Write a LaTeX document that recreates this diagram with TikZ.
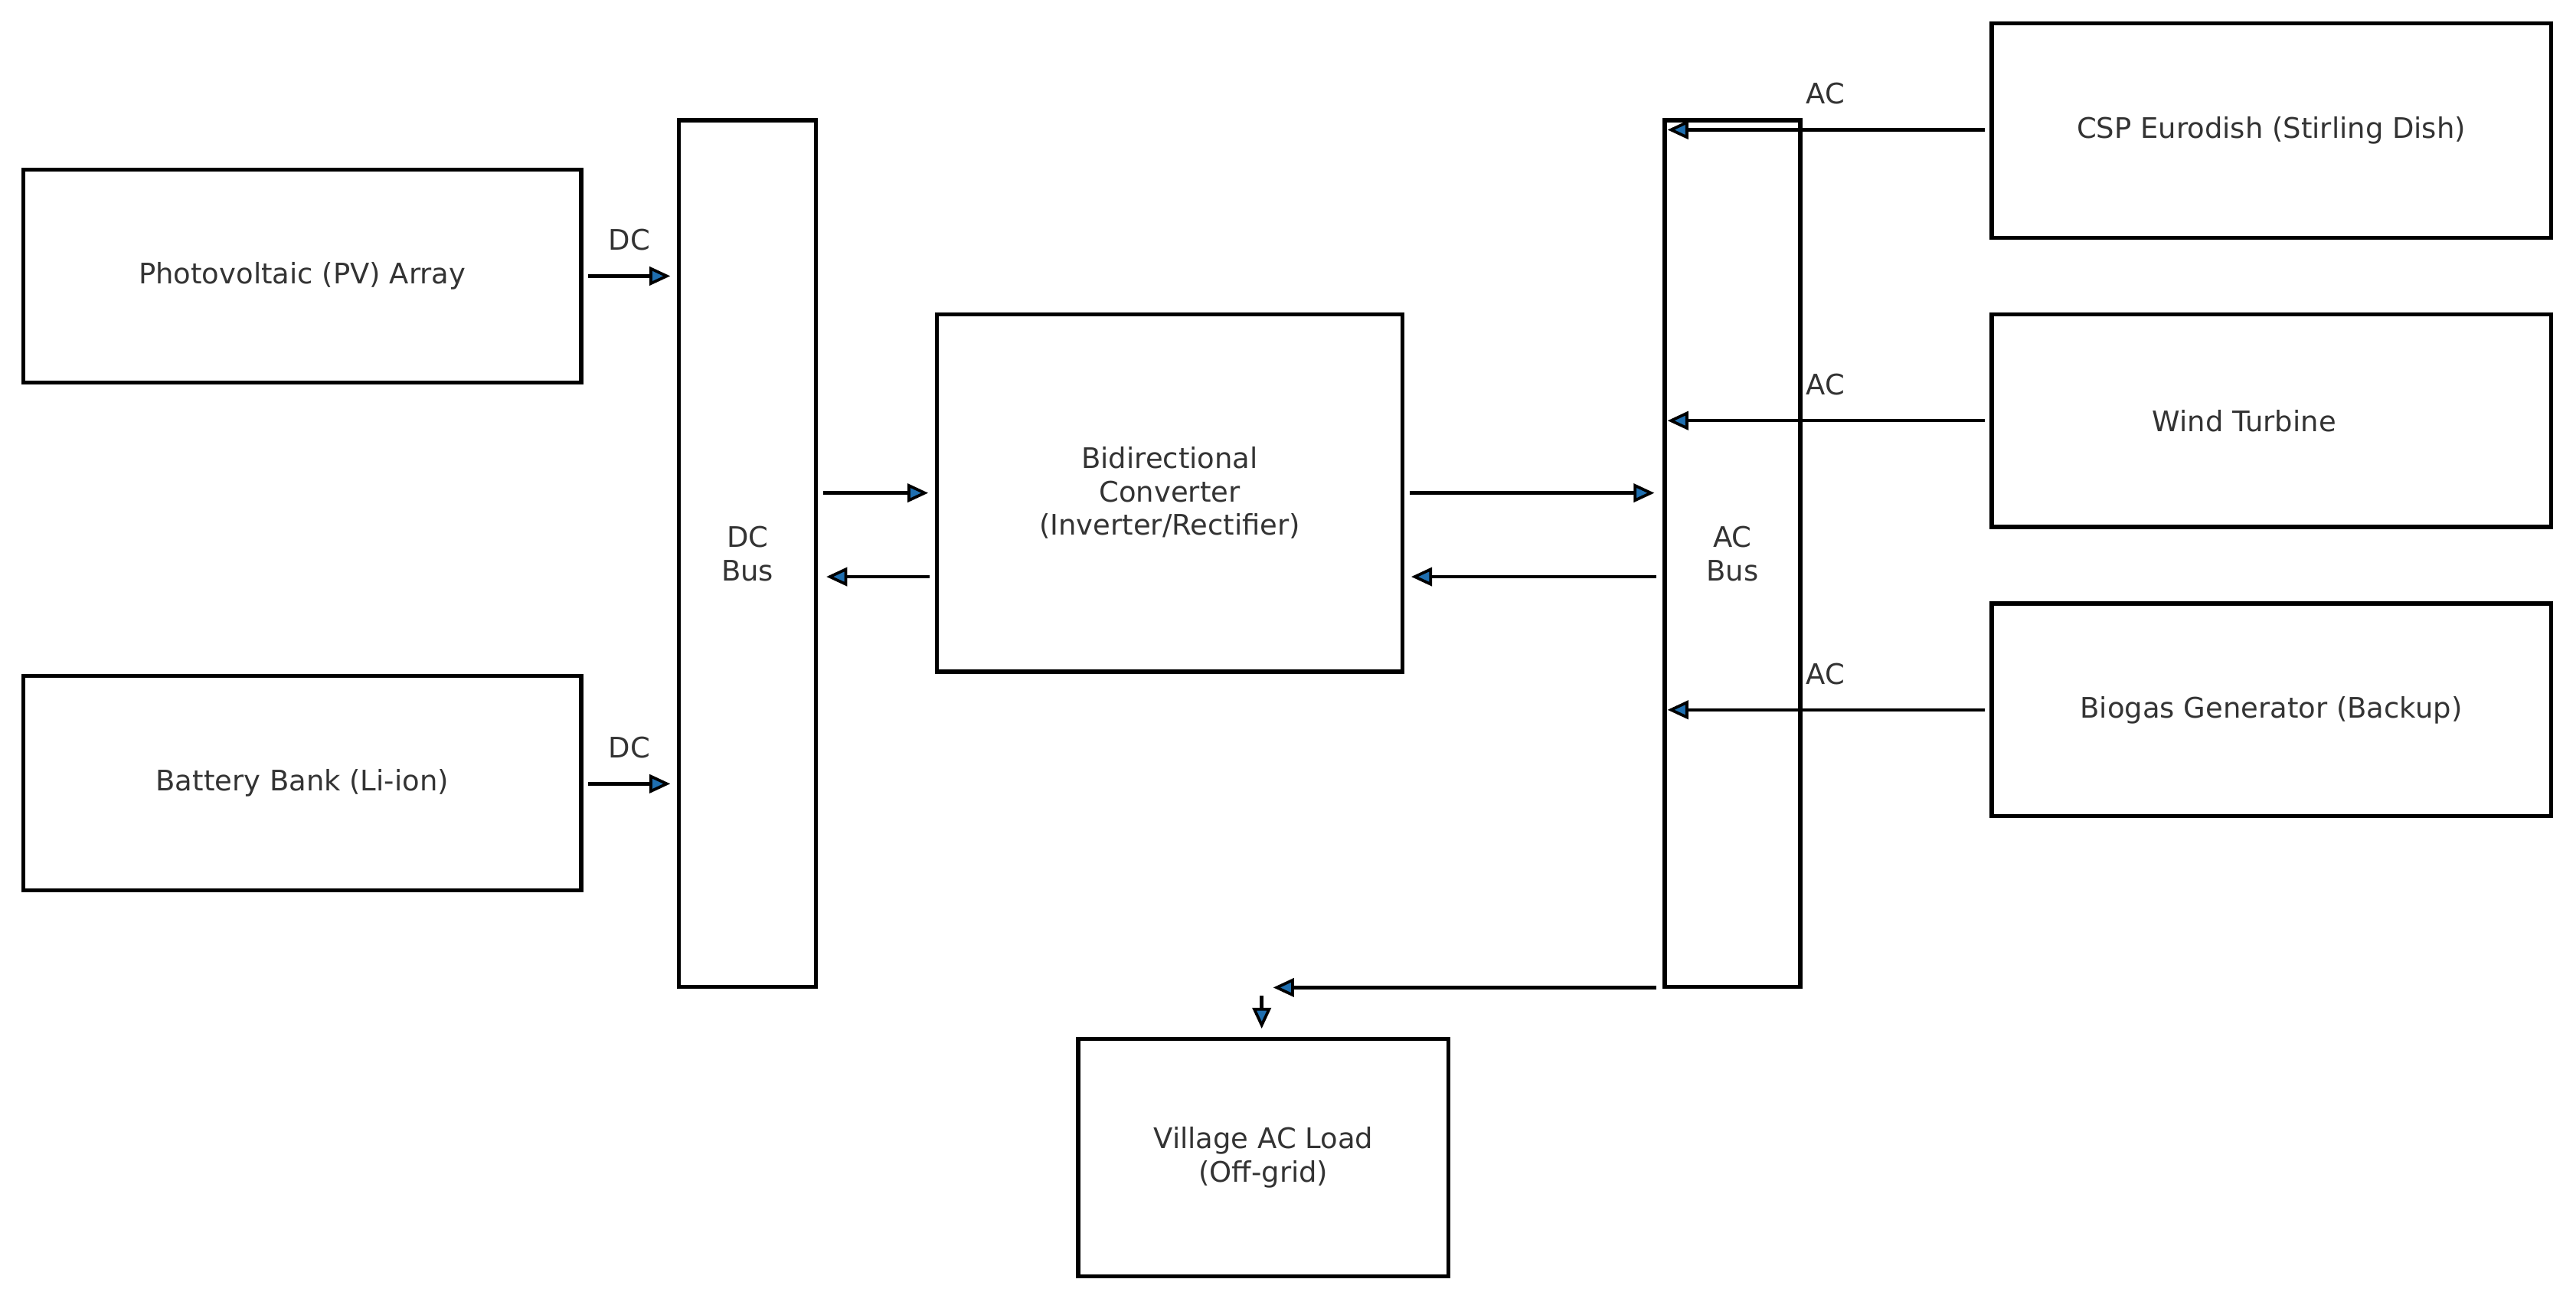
\documentclass[tikz,border=0pt]{standalone}
\usepackage{fontspec}
\setmainfont{DejaVu Sans}
\usetikzlibrary{arrows.meta}
\definecolor{tipc}{HTML}{1F6FB0}
\definecolor{txt}{HTML}{333333}
\begin{document}
\begin{tikzpicture}[x=0.05cm,y=-0.05cm,
  box/.style={draw=black,line width=3.6pt,text=txt,align=center,font=\fontsize{24.5}{29}\selectfont},
  lab/.style={text=txt,font=\fontsize{24.5}{29}\selectfont},
  ar/.style={line width=3pt,-{Triangle[length=18pt,width=16pt,fill=tipc,line width=2.5pt]}}]
\useasboundingbox (0,0) rectangle (1568,792);
\node[box,anchor=north west,minimum width=17.1cm-3.6pt,minimum height=6.6cm-3.6pt,inner sep=0] (pv) at (13,102) {Photovoltaic (PV) Array};
\node[box,anchor=north west,minimum width=17.1cm-3.6pt,minimum height=6.65cm-3.6pt,inner sep=0] (bat) at (13,410) {Battery Bank (Li-ion)};
\node[box,anchor=north west,minimum width=4.3cm-3.6pt,minimum height=26.5cm-3.6pt,inner sep=0] (dc) at (412,72) {DC\\Bus};
\node[box,anchor=north west,minimum width=14.3cm-3.6pt,minimum height=11cm-3.6pt,inner sep=0] (conv) at (569,190) {Bidirectional\\Converter\\(Inverter/Rectifier)};
\node[box,anchor=north west,minimum width=4.25cm-3.6pt,minimum height=26.5cm-3.6pt,inner sep=0] (ac) at (1012,72) {AC\\Bus};
\node[box,anchor=north west,minimum width=17.15cm-3.6pt,minimum height=6.65cm-3.6pt,inner sep=0] (csp) at (1211,13) {CSP Eurodish (Stirling Dish)};
\node[box,anchor=north west,minimum width=17.15cm-3.6pt,minimum height=6.6cm-3.6pt,inner sep=0] (wind) at (1211,190) {};
\node[text=txt,font=\fontsize{24.5}{29}\selectfont] (windt) at (1366,256) {Wind Turbine};
\node[box,anchor=north west,minimum width=17.15cm-3.6pt,minimum height=6.6cm-3.6pt,inner sep=0] (bio) at (1211,366) {Biogas Generator (Backup)};
\node[box,anchor=north west,minimum width=11.4cm-3.6pt,minimum height=7.35cm-3.6pt,inner sep=0] (vil) at (655,631) {Village AC Load\\(Off-grid)};
\coordinate (v1) at (775,601);
\coordinate (v2) at (768,606);
\coordinate (v3) at (768,626);
\draw[ar] (pv.east|-0,168) ++(3,0) -- (408,168);
\node[lab] (l1) at (383,146) {DC};
\draw[ar] (bat.east|-0,477) ++(3,0) -- (408,477);
\node[lab] (l2) at (383,455) {DC};
\draw[ar] (dc.east|-0,300) ++(3,0) -- (565,300);
\draw[ar] (conv.west|-0,351) ++(-3,0) -- (503,351);
\draw[ar] (conv.east|-0,300) ++(3,0) -- (1007,300);
\draw[ar] (ac.west|-0,351) ++(-4,0) -- (859,351);
\draw[ar] (csp.west|-0,79) ++(-3,0) -- (1015,79);
\node[lab] (l3) at (1111,57) {AC};
\draw[ar] (wind.west|-0,256) ++(-3,0) -- (1015,256);
\node[lab] (l4) at (1111,234) {AC};
\draw[ar] (bio.west|-0,432) ++(-3,0) -- (1015,432);
\node[lab] (l5) at (1111,410) {AC};
\draw[ar] (ac.west|-0,601) ++(-4,0) -- (v1);
\draw[ar] (v2) -- (v3);
\end{tikzpicture}
\end{document}
